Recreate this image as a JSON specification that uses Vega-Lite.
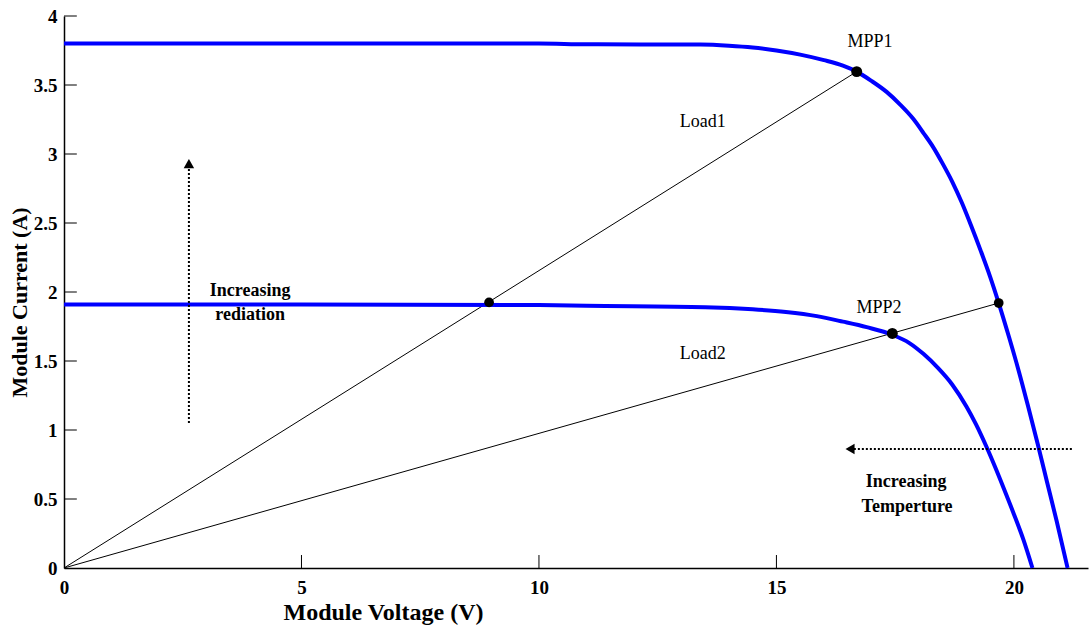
{
  "$schema": "https://vega.github.io/schema/vega-lite/v6.json",
  "width": 1024,
  "height": 552,
  "autosize": {"type": "none"},
  "padding": {"left": 64, "top": 16, "right": 2, "bottom": 60},
  "background": "white",
  "config": {"view": {"stroke": null}, "font": "Liberation Serif"},
  "datasets": {
    "curves": [
      {"series": "G1", "v": 0, "i": 3.8},
      {"series": "G1", "v": 5, "i": 3.8},
      {"series": "G1", "v": 10, "i": 3.8},
      {"series": "G1", "v": 11, "i": 3.795},
      {"series": "G1", "v": 13.4, "i": 3.793},
      {"series": "G1", "v": 14.0, "i": 3.785},
      {"series": "G1", "v": 14.5, "i": 3.772},
      {"series": "G1", "v": 15.0, "i": 3.75},
      {"series": "G1", "v": 15.5, "i": 3.72},
      {"series": "G1", "v": 16.0, "i": 3.68},
      {"series": "G1", "v": 16.4, "i": 3.64},
      {"series": "G1", "v": 16.69, "i": 3.597},
      {"series": "G1", "v": 17.0, "i": 3.53},
      {"series": "G1", "v": 17.32, "i": 3.45},
      {"series": "G1", "v": 17.6, "i": 3.36},
      {"series": "G1", "v": 17.88, "i": 3.255},
      {"series": "G1", "v": 18.1, "i": 3.15},
      {"series": "G1", "v": 18.3, "i": 3.05},
      {"series": "G1", "v": 18.5, "i": 2.93},
      {"series": "G1", "v": 18.7, "i": 2.8},
      {"series": "G1", "v": 18.9, "i": 2.65},
      {"series": "G1", "v": 19.1, "i": 2.48},
      {"series": "G1", "v": 19.3, "i": 2.3},
      {"series": "G1", "v": 19.5, "i": 2.11},
      {"series": "G1", "v": 19.68, "i": 1.92},
      {"series": "G1", "v": 19.9, "i": 1.67},
      {"series": "G1", "v": 20.1, "i": 1.43},
      {"series": "G1", "v": 20.3, "i": 1.17},
      {"series": "G1", "v": 20.5, "i": 0.9},
      {"series": "G1", "v": 20.7, "i": 0.62},
      {"series": "G1", "v": 20.9, "i": 0.34},
      {"series": "G1", "v": 21.13, "i": 0},
      {"series": "G2", "v": 0, "i": 1.91},
      {"series": "G2", "v": 5, "i": 1.91},
      {"series": "G2", "v": 10, "i": 1.905},
      {"series": "G2", "v": 11, "i": 1.9},
      {"series": "G2", "v": 13.5, "i": 1.89},
      {"series": "G2", "v": 14.5, "i": 1.875},
      {"series": "G2", "v": 15.2, "i": 1.855},
      {"series": "G2", "v": 15.85, "i": 1.825},
      {"series": "G2", "v": 16.4, "i": 1.785},
      {"series": "G2", "v": 16.9, "i": 1.745},
      {"series": "G2", "v": 17.44, "i": 1.69},
      {"series": "G2", "v": 17.8, "i": 1.63},
      {"series": "G2", "v": 18.1, "i": 1.55},
      {"series": "G2", "v": 18.4, "i": 1.45},
      {"series": "G2", "v": 18.7, "i": 1.33},
      {"series": "G2", "v": 19.0, "i": 1.17},
      {"series": "G2", "v": 19.2, "i": 1.042},
      {"series": "G2", "v": 19.42, "i": 0.88},
      {"series": "G2", "v": 19.6, "i": 0.735},
      {"series": "G2", "v": 19.8, "i": 0.565},
      {"series": "G2", "v": 20.0, "i": 0.39},
      {"series": "G2", "v": 20.2, "i": 0.205},
      {"series": "G2", "v": 20.39, "i": 0}
    ],
    "loads": [
      {"series": "Load1", "v": 0, "i": 0},
      {"series": "Load1", "v": 16.69, "i": 3.597},
      {"series": "Load2", "v": 0, "i": 0},
      {"series": "Load2", "v": 19.68, "i": 1.92}
    ],
    "ticks": [
      {"v": 5, "i": 0, "v2": 5, "i2": 0.094},
      {"v": 10, "i": 0, "v2": 10, "i2": 0.094},
      {"v": 15, "i": 0, "v2": 15, "i2": 0.094},
      {"v": 20, "i": 0, "v2": 20, "i2": 0.094},
      {"v": 0, "i": 0.5, "v2": 0.27, "i2": 0.5},
      {"v": 0, "i": 1, "v2": 0.27, "i2": 1},
      {"v": 0, "i": 1.5, "v2": 0.27, "i2": 1.5},
      {"v": 0, "i": 2, "v2": 0.27, "i2": 2},
      {"v": 0, "i": 2.5, "v2": 0.27, "i2": 2.5},
      {"v": 0, "i": 3, "v2": 0.27, "i2": 3},
      {"v": 0, "i": 3.5, "v2": 0.27, "i2": 3.5},
      {"v": 0, "i": 4, "v2": 0.27, "i2": 4}
    ],
    "arrows": [
      {"arrow": "rad", "k": 0, "v": 2.63, "i": 1.05},
      {"arrow": "rad", "k": 1, "v": 2.63, "i": 2.9},
      {"arrow": "temp", "k": 0, "v": 21.22, "i": 0.862},
      {"arrow": "temp", "k": 1, "v": 16.62, "i": 0.862}
    ],
    "heads": [
      {"dir": "up", "v": 2.63, "i": 2.93},
      {"dir": "left", "v": 16.55, "i": 0.862}
    ],
    "dots": [
      {"kind": "mpp", "v": 16.69, "i": 3.597},
      {"kind": "mpp", "v": 17.44, "i": 1.70},
      {"kind": "cross", "v": 8.95, "i": 1.925},
      {"kind": "cross", "v": 19.68, "i": 1.92}
    ],
    "labels": [
      {"label": "MPP1", "v": 16.97, "i": 3.81},
      {"label": "MPP2", "v": 17.16, "i": 1.884},
      {"label": "Load1", "v": 13.45, "i": 3.23},
      {"label": "Load2", "v": 13.45, "i": 1.55}
    ],
    "notes": [
      {"label": "Increasing", "v": 3.92, "i": 2.01},
      {"label": "rediation", "v": 3.92, "i": 1.83},
      {"label": "Increasing", "v": 17.73, "i": 0.62},
      {"label": "Temperture", "v": 17.75, "i": 0.44}
    ]
  },
  "encoding": {
    "x": {
      "field": "v", "type": "quantitative",
      "scale": {"domain": [0, 21.56], "nice": false, "zero": false},
      "axis": {
        "title": "Module Voltage (V)", "values": [0, 5, 10, 15, 20], "format": "~g",
        "grid": false, "domainColor": "black", "domainWidth": 1.5, "ticks": false,
        "labelPadding": 10, "labelFlush": false, "labelOverlap": false,
        "labelFont": "Liberation Serif", "labelFontWeight": "bold", "labelFontSize": 19, "labelColor": "black",
        "titleFont": "Liberation Serif", "titleFontWeight": "bold", "titleFontSize": 24, "titleColor": "black",
        "titleX": 319, "titleY": 44, "titleBaseline": "middle", "titleAlign": "center"
      }
    },
    "y": {
      "field": "i", "type": "quantitative",
      "scale": {"domain": [0, 4], "nice": false, "zero": false},
      "axis": {
        "title": "Module Current (A)", "values": [0, 0.5, 1, 1.5, 2, 2.5, 3, 3.5, 4], "format": "~g",
        "grid": false, "domainColor": "black", "domainWidth": 1.5, "ticks": false,
        "labelPadding": 7, "labelFlush": false, "labelOverlap": false,
        "labelFont": "Liberation Serif", "labelFontWeight": "bold", "labelFontSize": 19, "labelColor": "black",
        "titleFont": "Liberation Serif", "titleFontWeight": "bold", "titleFontSize": 22, "titleColor": "black",
        "titleX": -45, "titleY": 286, "titleBaseline": "middle", "titleAlign": "center"
      }
    }
  },
  "layer": [
    {
      "data": {"name": "ticks"},
      "mark": {"type": "rule", "color": "black", "strokeWidth": 1},
      "encoding": {"x2": {"field": "v2"}, "y2": {"field": "i2"}}
    },
    {
      "data": {"name": "loads"},
      "mark": {"type": "line", "color": "black", "strokeWidth": 1},
      "encoding": {"detail": {"field": "series"}}
    },
    {
      "data": {"name": "curves"},
      "mark": {"type": "line", "color": "#0000FF", "strokeWidth": 4, "interpolate": "monotone"},
      "encoding": {"detail": {"field": "series"}}
    },
    {
      "data": {"name": "arrows"},
      "mark": {"type": "line", "color": "black", "strokeWidth": 2, "strokeDash": [2, 2]},
      "encoding": {"detail": {"field": "arrow"}, "order": {"field": "k"}}
    },
    {
      "data": {"name": "heads"},
      "mark": {"type": "point", "filled": true, "color": "black", "opacity": 1, "size": 110},
      "encoding": {
        "shape": {"field": "dir", "scale": {"domain": ["up", "left"], "range": ["triangle-up", "triangle-left"]}, "legend": null}
      }
    },
    {
      "data": {"name": "dots"},
      "transform": [{"filter": "datum.kind === 'mpp'"}],
      "mark": {"type": "circle", "color": "black", "opacity": 1, "size": 120}
    },
    {
      "data": {"name": "dots"},
      "transform": [{"filter": "datum.kind === 'cross'"}],
      "mark": {"type": "circle", "color": "black", "opacity": 1, "size": 95}
    },
    {
      "data": {"name": "labels"},
      "mark": {"type": "text", "font": "Liberation Serif", "fontSize": 18, "color": "black", "align": "center", "baseline": "middle"},
      "encoding": {"text": {"field": "label"}}
    },
    {
      "data": {"name": "notes"},
      "mark": {"type": "text", "font": "Liberation Serif", "fontSize": 18, "fontWeight": "bold", "color": "black", "align": "center", "baseline": "middle"},
      "encoding": {"text": {"field": "label"}}
    }
  ]
}
